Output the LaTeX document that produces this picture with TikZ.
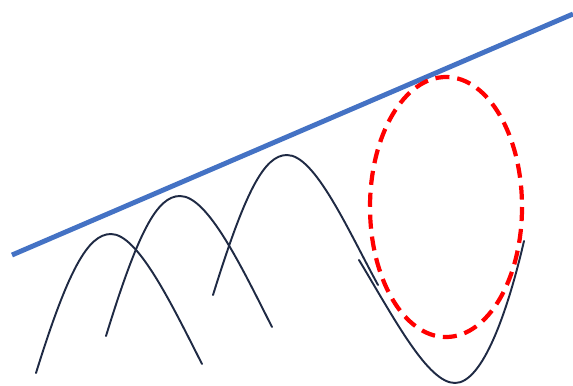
\documentclass[tikz,border=0pt]{standalone}
\usepackage{tikz}
\definecolor{trendBlue}{HTML}{4472C4}
\definecolor{archNavy}{HTML}{1F2A44}
\definecolor{focusRed}{HTML}{FF0000}
\tikzset{
  arch/.style={draw=archNavy, line width=1.1pt, line cap=round},
  trend/.style={draw=trendBlue, line width=2.8pt},
  focus/.style={draw=focusRed, line width=2.4pt, dash pattern=on 8pt off 4.5pt}
}
\begin{document}
\begin{tikzpicture}[x=0.02cm, y=-0.02cm]
  \useasboundingbox (0,0) rectangle (573,385);
  % trend line
  \draw[trend] (12,255) -- (573,14);
  % arches
  \draw[arch] (36,373) .. controls (68,270) and (88,234) .. (111,234)
    .. controls (138,234) and (172,305) .. (202,364);
  \draw[arch] (106,336) .. controls (138,232) and (157,196) .. (180,196)
    .. controls (208,196) and (242,268) .. (272,327);
  \draw[arch] (213,295) .. controls (245,192) and (264,155) .. (287,155)
    .. controls (315,155) and (348,230) .. (378,285);
  % valley
  \draw[arch] (359,260) .. controls (395,320) and (428,383) .. (455,383)
    .. controls (483,383) and (508,310) .. (524,241);
  % focus ellipse
  \draw[focus] (446,207) ellipse [x radius=76, y radius=130];
\end{tikzpicture}
\end{document}
